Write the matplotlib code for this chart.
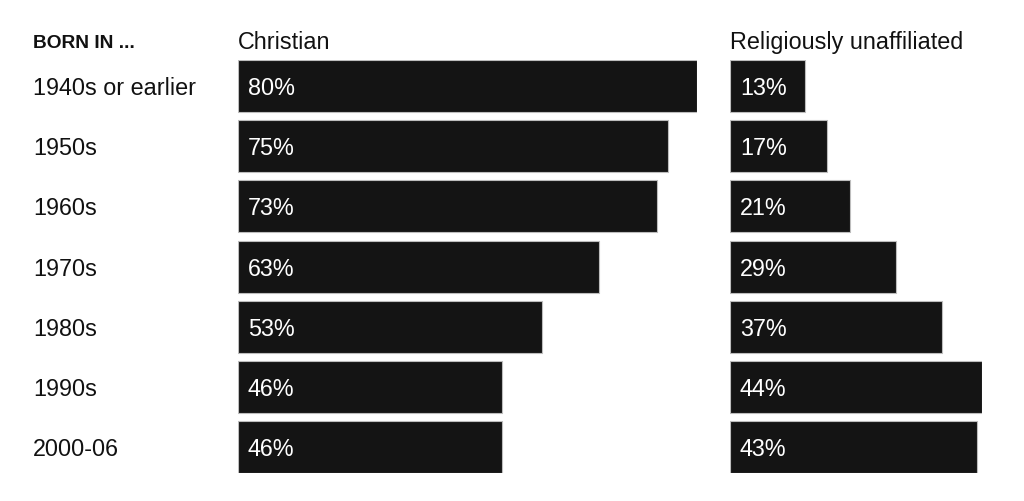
import matplotlib
matplotlib.use("Agg")
import matplotlib.pyplot as plt
from matplotlib.transforms import blended_transform_factory

categories = ["1940s or earlier", "1950s", "1960s", "1970s", "1980s", "1990s", "2000-06"]
christian = [80, 75, 73, 63, 53, 46, 46]
unaffiliated = [13, 17, 21, 29, 37, 44, 43]
headers = ["Christian", "Religiously unaffiliated"]
row_header = "BORN IN ..."

plt.rcParams['font.family'] = ['Liberation Sans', 'DejaVu Sans']

W, H = 1024, 501
fig = plt.figure(figsize=(W / 100, H / 100), dpi=100)
fig.patch.set_facecolor("white")

pxper = 5.735
top_px, bot_px = 60, 473
n = len(categories)
pitch = (bot_px - top_px - 52) / (n - 1)
h = 52 / pitch

def make_ax(x0, vmax):
    width = vmax * pxper
    ax = fig.add_axes([x0 / W, 1 - bot_px / H, width / W, (bot_px - top_px) / H])
    ax.set_xlim(0, vmax)
    ax.set_ylim(n - 1 + h / 2, -h / 2)
    ax.axis("off")
    return ax

ax1 = make_ax(238, 80)
ax2 = make_ax(730, 44)

fs = 16.8
for ax, vals, head in [(ax1, christian, headers[0]), (ax2, unaffiliated, headers[1])]:
    ax.barh(range(n), vals, height=h, color="#141414", edgecolor="#bdbdbd", linewidth=0.8)
    for i, v in enumerate(vals):
        ax.text(10 / pxper, i, f"{v}%", color="white", va="center_baseline", ha="left", fontsize=fs)
    ax.text(0, 1 + 20 / (bot_px - top_px), head, transform=ax.transAxes,
            ha="left", va="center_baseline", fontsize=fs, color="#111111")

tr = blended_transform_factory(fig.transFigure, ax1.transData)
for i, c in enumerate(categories):
    ax1.text(33 / W, i, c, transform=tr, ha="left", va="center_baseline", fontsize=fs, color="#111111")
fig.text(33 / W, 1 - 42 / H, row_header, ha="left", va="center_baseline", fontsize=13.8,
         fontweight="bold", color="#111111")

fig.savefig("out.png", dpi=100, facecolor="white")
